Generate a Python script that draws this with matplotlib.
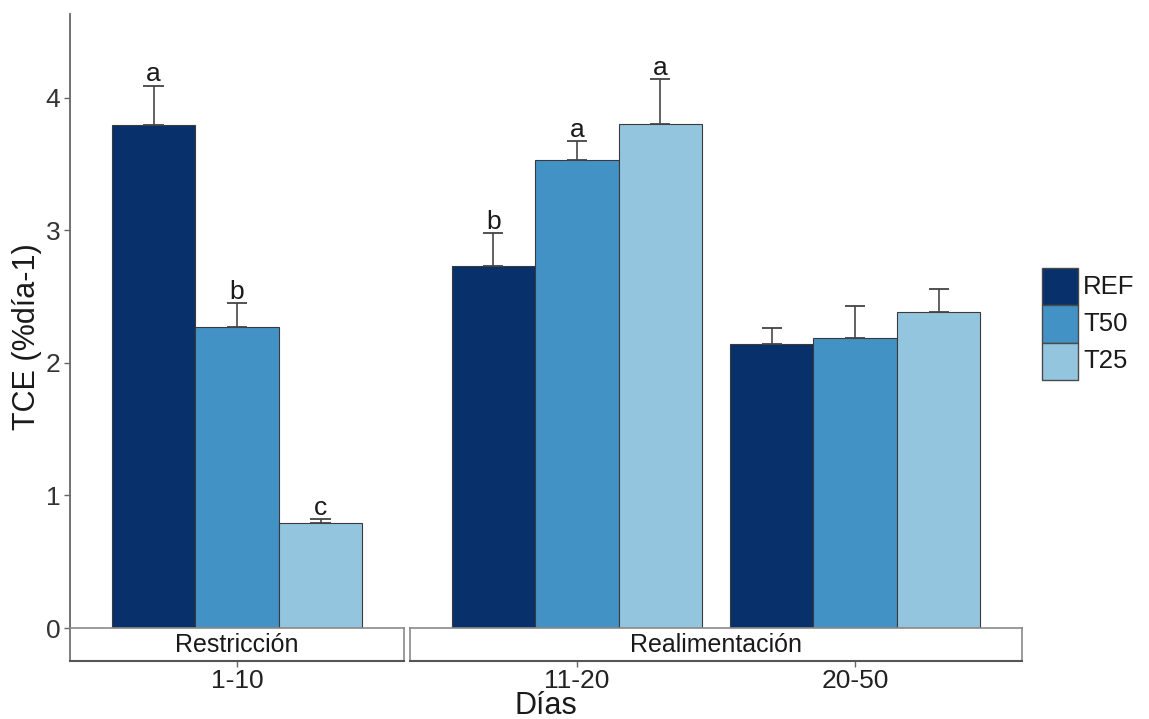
import matplotlib
matplotlib.use("Agg")
import matplotlib.pyplot as plt
from matplotlib.patches import Rectangle
import numpy as np

plt.rcParams['font.family'] = ['Liberation Sans', 'DejaVu Sans']

# Data: growth rate (TCE, %/day) by treatment and period
treatments = ["REF", "T50", "T25"]
colors = ["#08306B", "#4292C6", "#93C5DE"]
periods = ["1-10", "11-20", "20-50"]
phases = ["Restricción", "Realimentación"]
phase_periods = [["1-10"], ["11-20", "20-50"]]

means = {
    "REF": [3.79, 2.73, 2.14],
    "T50": [2.27, 3.53, 2.19],
    "T25": [0.79, 3.80, 2.38],
}
se = {
    "REF": [0.30, 0.25, 0.12],
    "T50": [0.18, 0.14, 0.24],
    "T25": [0.03, 0.34, 0.18],
}
letters = {
    "REF": ["a", "b", ""],
    "T50": ["b", "a", ""],
    "T25": ["c", "a", ""],
}

W, H = 1149, 719
fig = plt.figure(figsize=(W / 100, H / 100), dpi=100)


def box(x0, y0, x1, y1):
    return [x0 / W, 1 - y1 / H, (x1 - x0) / W, (y1 - y0) / H]


panel_px = [(70, 404), (410, 1022)]
top_px, base_px, strip_px = 14, 628, 661
ymax = 4.63
dodge = 0.9
bw = dodge / len(treatments)
cap_w = 0.036

for pi, (phase, pers) in enumerate(zip(phases, phase_periods)):
    x0, x1 = panel_px[pi]
    ax = fig.add_axes(box(x0, top_px, x1, base_px))
    n = len(pers)
    ax.set_xlim(0.4, n + 0.6)
    ax.set_ylim(0, ymax)
    for k, per in enumerate(pers):
        idx = periods.index(per)
        xc = k + 1
        for ti, t in enumerate(treatments):
            xb = xc + (ti - 1) * bw
            m = means[t][idx]
            e = se[t][idx]
            ax.bar(xb, m, width=bw, color=colors[ti], edgecolor="#3a3a3a",
                   linewidth=0.8, zorder=2)
            ax.vlines(xb, m, m + e, color="#555555", lw=1.3, zorder=3)
            ax.hlines([m, m + e], xb - cap_w, xb + cap_w, color="#444444",
                      lw=1.3, zorder=3)
            if letters[t][idx]:
                ax.annotate(letters[t][idx], (xb, m + e), xytext=(0, 3),
                            textcoords="offset points", ha="center",
                            va="baseline", fontsize=19, color="#1a1a1a")
    ax.set_xticks([])
    for sp in ["top", "right", "bottom"]:
        ax.spines[sp].set_visible(False)
    if pi == 0:
        ax.spines["left"].set_color("#666666")
        ax.spines["left"].set_linewidth(1.3)
        ax.set_yticks([0, 1, 2, 3, 4])
        ax.tick_params(axis="y", length=4, width=1.0, color="#666666",
                       labelsize=19, labelcolor="#333333", pad=3)
    else:
        ax.spines["left"].set_visible(False)
        ax.set_yticks([])

    # strip below the panel, carrying the period tick labels
    sx = fig.add_axes(box(x0, base_px, x1, strip_px))
    sx.set_xlim(0.4, n + 0.6)
    sx.set_ylim(0, 1)
    sx.set_yticks([])
    sx.set_xticks(range(1, n + 1))
    sx.set_xticklabels(pers)
    sx.tick_params(axis="x", length=4, width=1.0, color="#666666",
                   labelsize=19, labelcolor="#222222", pad=2)
    for sp in ["top", "right", "left"]:
        sx.spines[sp].set_color("#8a8a8a")
        sx.spines[sp].set_linewidth(1.2)
    sx.spines["left"].set_color("#666666" if pi == 0 else "#8a8a8a")
    sx.spines["bottom"].set_color("#555555")
    sx.spines["bottom"].set_linewidth(1.5)
    sx.text(0.5, 0.5, phase, transform=sx.transAxes, ha="center",
            va="center", fontsize=18, color="#1a1a1a")

fig.text(27 / W, 1 - 337 / H, "TCE (%día-1)", rotation=90, ha="center",
         va="center", fontsize=22, color="#1a1a1a")
fig.text(546 / W, 1 - 706 / H, "Días", ha="center", va="center",
         fontsize=22, color="#1a1a1a")

# legend
lg = fig.add_axes(box(1030, 255, 1149, 395))
lg.set_xlim(1030, 1149)
lg.set_ylim(395, 255)
lg.axis("off")
kh = 37.3
for ti, t in enumerate(treatments):
    y = 268 + ti * kh
    lg.add_patch(Rectangle((1042, y), 36, kh, facecolor=colors[ti],
                           edgecolor="#4a4a4a", linewidth=1.0))
    lg.text(1083, y + kh / 2, t, ha="left", va="center", fontsize=18.5,
            color="#1a1a1a")

fig.savefig("out.png", dpi=100, facecolor="white")
